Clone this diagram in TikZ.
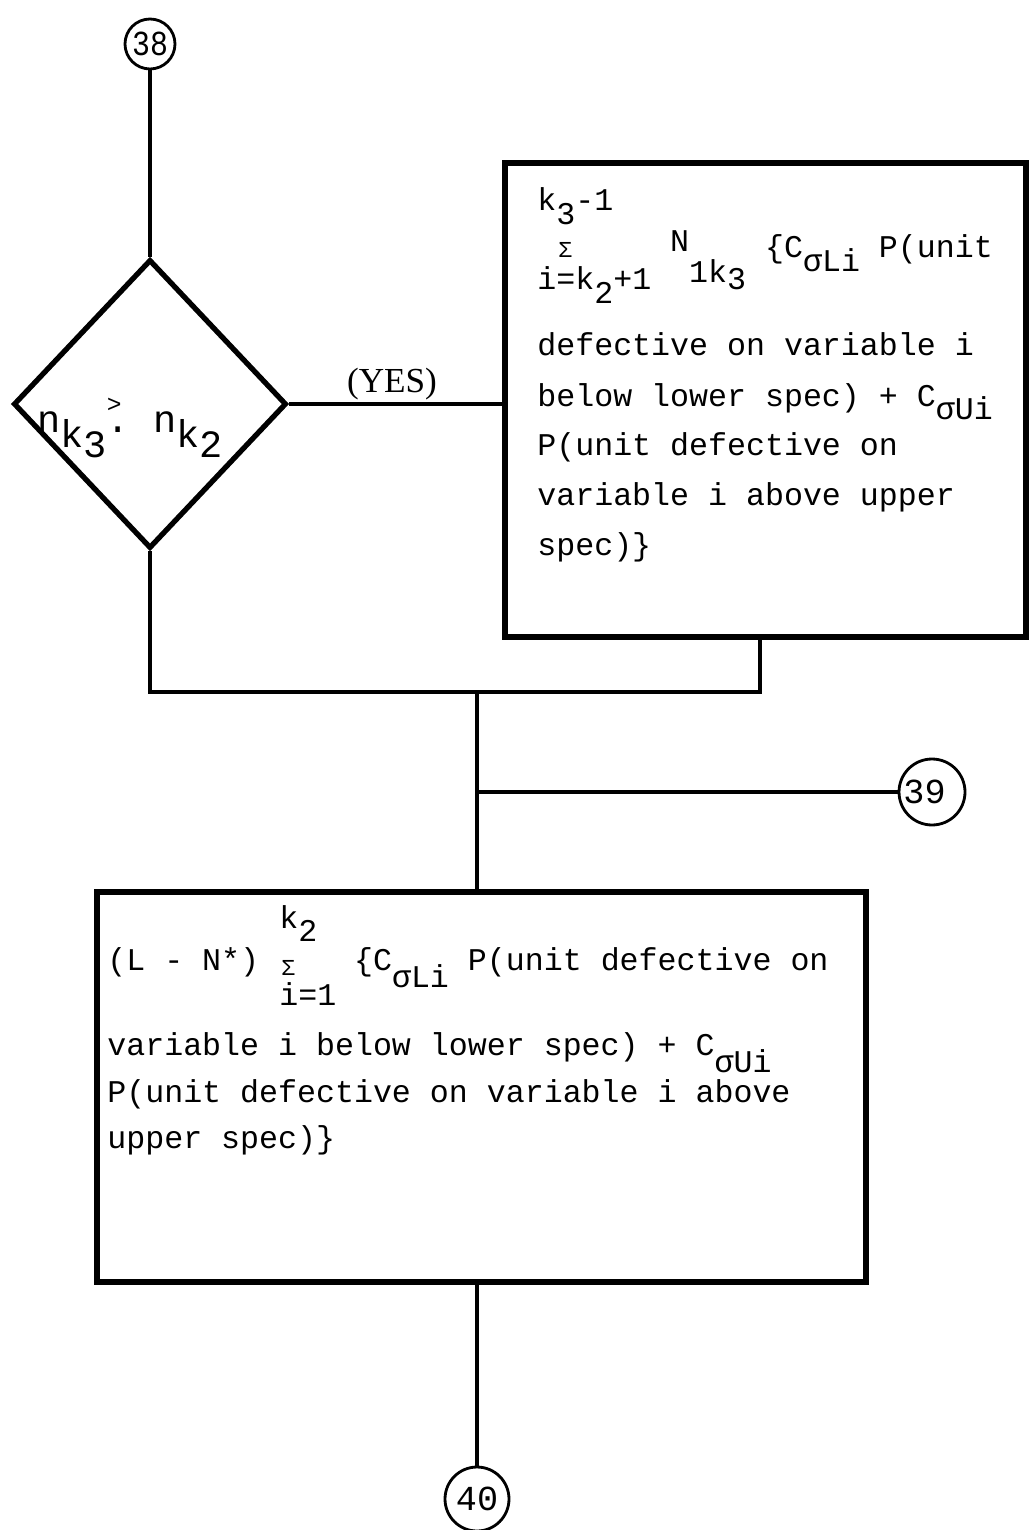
\documentclass[tikz,border=0pt]{standalone}
\usepackage{fontspec}
\newfontfamily\tw{Liberation Mono}
\newfontfamily\yesfont{Liberation Serif}
\usetikzlibrary{shapes.geometric, positioning}
\newcommand{\lowr}[2][0.42em]{\raisebox{-#1}{#2}}
\tikzset{
  flow/.style={line width=2.8pt},
  thinflow/.style={line width=2.2pt},
  connector/.style={circle, draw, line width=1.6pt, inner sep=0pt, font=\tw\fontsize{20}{20}\selectfont},
  decision/.style={diamond, draw, line width=3pt, inner sep=0pt, minimum width=5.46cm, minimum height=5.78cm},
  process/.style={rectangle, draw, line width=3pt, inner sep=0pt},
  typed/.style={font=\tw\fontsize{18}{18}\selectfont, anchor=base west, inner sep=0pt},
  small sigma/.style={font=\tw\fontsize{13}{13}\selectfont, anchor=base west, inner sep=0pt}
}

\begin{document}
\begin{tikzpicture}[x=0.02cm, y=-0.02cm]
\useasboundingbox (0,0) rectangle (1029,1530);

% Connectors
\node[connector, minimum size=1cm] (c38) at (150,44) {\scalebox{0.85}[1]{38}};
\node[connector, minimum size=1.32cm] (c39) at (932,792) {\hspace*{-0.3cm}39};
\node[connector, minimum size=1.28cm] (c40) at (477,1499) {40};

% Decision
\node[decision] (dec) at (150,404) {};
\node[typed, font=\tw\fontsize{22}{22}\selectfont] (cond) at (37,432)
  {n\lowr[0.39em]{k\lowr[0.26em]{3}}\rlap{\raisebox{0.5em}{\fontsize{14}{14}\selectfont>}}.~n\lowr[0.39em]{k\lowr[0.26em]{2}}};
\node[font=\yesfont\fontsize{20}{20}\selectfont, anchor=base] (yes) at (392,393) {(YES)};

% Upper process box
\node[process, minimum width=10.42cm, minimum height=9.48cm] (sumbox) at (765.5,400) {};
\node[typed] (s1) at (537,211) {k\lowr{3}-1};
\node[small sigma] (s2sig) at (558,258) {Σ};
\node[typed] (s2lim) at (537,290) {i=k\lowr{2}+1};
\node[typed] (s2) at (537,258)
  {~~~~~~~\raisebox{0.19em}{N}\lowr[0.76em]{1k\lowr[0.25em]{3}}~\{C\lowr{σLi}~P(unit};
\node[typed] (s3) at (537,356) {defective on variable i};
\node[typed] (s4) at (537,406) {below lower spec) + C\lowr{σUi}};
\node[typed] (s5) at (537,455) {P(unit defective on};
\node[typed] (s6) at (537,505) {variable i above upper};
\node[typed] (s7) at (537,555) {spec)\}};

% Lower process box
\node[process, minimum width=15.38cm, minimum height=7.8cm] (costbox) at (481.5,1087) {};
\node[typed] (b0) at (279,928) {k\lowr{2}};
\node[small sigma] (b1sig) at (281,975) {Σ};
\node[typed] (b1lim) at (279,1005) {i=1};
\node[typed] (b1) at (107,970) {(L - N*)~~~~~\{C\lowr[0.55em]{σLi}~P(unit defective on};
\node[typed] (b2) at (107,1055) {variable i below lower spec) + C\lowr[0.55em]{σUi}};
\node[typed] (b3) at (107,1102) {P(unit defective on variable i above};
\node[typed] (b4) at (107,1148) {upper spec)\}};

% Junction points
\coordinate (mergeL) at (150,692);
\coordinate (mergeR) at (760,692);
\coordinate (join) at (477,692);
\coordinate (tap) at (477,792);

% Lines
\draw[thinflow] (c38) -- (dec);
\draw[flow] (dec.east) -- (dec.east -| sumbox.west);
\draw[flow] (dec.south) -- (mergeL) -- (mergeR) -- (mergeR |- sumbox.south);
\draw[flow] (join) -- (join |- costbox.north);
\draw[flow] (tap) -- (c39);
\draw[flow] (costbox.south -| join) -- (c40);

\end{tikzpicture}
\end{document}
